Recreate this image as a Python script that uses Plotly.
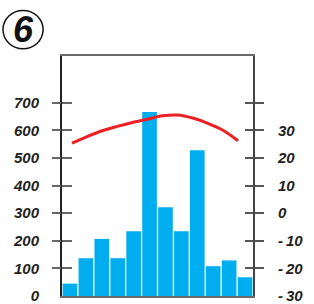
import plotly.graph_objects as go

months = list(range(1, 13))
precip_mm = [45, 137, 207, 137, 235, 667, 322, 235, 528, 108, 129, 68]
temp_c = [25.4, 27.8, 29.9, 31.5, 32.9, 34.1, 35.3, 35.6, 34.5, 32.6, 30.1, 26.3]

precip_ticks = [0, 100, 200, 300, 400, 500, 600, 700]
precip_tickmarks = [100, 200, 300, 400, 500, 600, 700]
temp_ticks = [-30, -20, -10, 0, 10, 20, 30]
temp_labels = ["-\u200930", "-\u200920", "-\u200910", "0", "10", "20", "30"]
temp_tickmarks = [-20, -10, 0, 10, 20, 30, 40]
badge = "6"

BAR = "#00AEEF"
RED = "#ED2024"
LFONT = dict(family="Liberation Sans, Arial, sans-serif", size=15, color="#222",
             weight="bold", style="italic")

P_RANGE = [0, 870]
T_RANGE = [-30, 57.0]

fig = go.Figure()
fig.add_trace(go.Bar(x=months, y=precip_mm, marker=dict(color=BAR, line=dict(width=0)),
                     xaxis="x", yaxis="y", showlegend=False, hoverinfo="skip"))
fig.add_trace(go.Scatter(x=months, y=temp_c, mode="lines", line=dict(color=RED, width=3, shape="spline"),
                         xaxis="x2", yaxis="y2", showlegend=False, hoverinfo="skip"))
# empty helper traces so the tick-only axes are drawn
for ya in ["y3", "y4", "y5", "y6"]:
    fig.add_trace(go.Scatter(x=[], y=[], xaxis="x", yaxis=ya, showlegend=False))

common = dict(showgrid=False, zeroline=False)
fig.update_layout(
    width=314, height=304,
    margin=dict(l=62, r=61, t=56, b=8, autoexpand=False),
    paper_bgcolor="white", plot_bgcolor="white",
    bargap=0.08,
    showlegend=False,
    xaxis=dict(range=[0.5, 12.5], showticklabels=False, ticks="", showline=True,
               linecolor="#6a6a6a", linewidth=2, mirror=True, **common),
    xaxis2=dict(range=[0.337, 12.994], overlaying="x", visible=False, **common),
    yaxis=dict(range=P_RANGE, tickvals=precip_ticks, ticktext=[str(v) for v in precip_ticks],
               ticks="", tickfont=LFONT, ticklabelstandoff=18, showline=True,
               linecolor="#222", linewidth=2, automargin=False, ticklabeloverflow="allow", **common),
    yaxis2=dict(range=T_RANGE, overlaying="y", side="right", tickvals=temp_ticks, ticktext=temp_labels,
                ticks="", tickfont=LFONT, ticklabelstandoff=20, showline=True,
                linecolor="#444", linewidth=2, automargin=False, ticklabeloverflow="allow", **common),
    yaxis3=dict(range=P_RANGE, overlaying="y", side="left", tickvals=precip_tickmarks,
                ticks="outside", ticklen=9, tickwidth=2, tickcolor="#666",
                showticklabels=False, **common),
    yaxis4=dict(range=P_RANGE, overlaying="y", side="left", tickvals=precip_tickmarks,
                ticks="inside", ticklen=10, tickwidth=2, tickcolor="#666",
                showticklabels=False, **common),
    yaxis5=dict(range=T_RANGE, overlaying="y", side="right", tickvals=temp_tickmarks,
                ticks="outside", ticklen=10, tickwidth=2, tickcolor="#555",
                showticklabels=False, **common),
    yaxis6=dict(range=T_RANGE, overlaying="y", side="right", tickvals=temp_tickmarks,
                ticks="inside", ticklen=8, tickwidth=2, tickcolor="#555",
                showticklabels=False, **common),
    shapes=[dict(type="circle", xref="paper", yref="paper",
                 x0=-0.309, x1=-0.099, y0=1.03, y1=1.19,
                 line=dict(color="#111", width=1.5))],
    annotations=[dict(text=badge, xref="paper", yref="paper", x=-0.204, y=1.11,
                      xanchor="center", yanchor="middle", showarrow=False,
                      font=dict(family="Liberation Sans, Arial, sans-serif", size=36,
                                color="#111", weight="bold", style="italic"))],
)

fig.write_html("out.html", config={"displayModeBar": False, "staticPlot": True},
               post_script="document.body.style.margin='0';")
